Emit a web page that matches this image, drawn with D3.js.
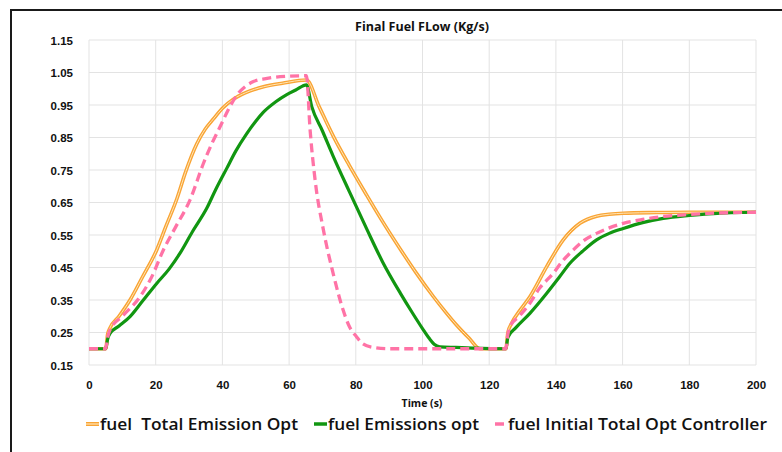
<!DOCTYPE html>
<html>
<head>
<meta charset="UTF-8">
<script src="https://d3js.org/d3.v7.min.js"></script>
<style>
  body { margin: 0; background: #fff; }
  svg { display: block; font-family: "Open Sans", "Liberation Sans", sans-serif; }
  .grid line { stroke: #e3e3e3; stroke-width: 1; }
  .tick-label { font-size: 11.5px; font-weight: bold; fill: #111; }
</style>
</head>
<body>
<svg id="chart" width="782" height="452"></svg>
<script>
  // series data (time in s, fuel flow in kg/s)
  const totalT = [0, 5, 5.6, 6.3, 9, 12.3, 16, 20.3, 23, 26.3, 29, 32.3, 34.8, 37.3, 40, 43.3, 47, 52.3, 58, 65.2,
                  69, 73.2, 78, 83.3, 88, 93.3, 98, 103.3, 107, 110.2, 114, 117.2, 125, 125.6, 126.7,
                  129, 132.2, 137.2, 142.2, 147.2, 152.2, 156, 160.2, 170, 180, 190, 200];
  const totalV = [0.2, 0.2, 0.245, 0.264, 0.3, 0.35, 0.42, 0.504, 0.575, 0.66, 0.745, 0.83, 0.875, 0.907, 0.94, 0.968, 0.988, 1.006, 1.017, 1.027,
                  0.945, 0.855, 0.765, 0.672, 0.592, 0.507, 0.435, 0.36, 0.312, 0.273, 0.232, 0.2, 0.2, 0.25, 0.278,
                  0.315, 0.36, 0.452, 0.535, 0.586, 0.608, 0.614, 0.617, 0.619, 0.62, 0.62, 0.62];

  const emisT = [0, 5, 5.6, 6.3, 9, 12.3, 16, 20.3, 24, 27.3, 31, 35.3, 38, 41.3, 44, 47.3, 50, 52.3, 56, 59.3, 62, 65.2,
                 66.8, 70, 73.2, 78, 83.3, 88, 93.3, 97, 100, 102, 103.5, 105.2, 110, 115, 125, 125.6,
                 128, 132.2, 137.2, 141, 144.2, 148, 152.2, 156, 160.2, 166, 172.2, 180, 187.2, 200];
  const emisV = [0.2, 0.2, 0.23, 0.247, 0.27, 0.299, 0.346, 0.401, 0.445, 0.494, 0.56, 0.632, 0.69, 0.755, 0.808, 0.862, 0.9, 0.928, 0.96, 0.982, 0.996, 1.012,
                 0.945, 0.87, 0.793, 0.685, 0.568, 0.468, 0.372, 0.31, 0.262, 0.232, 0.214, 0.206, 0.204, 0.202, 0.2, 0.235,
                 0.265, 0.309, 0.37, 0.42, 0.463, 0.5, 0.535, 0.555, 0.57, 0.588, 0.601, 0.61, 0.616, 0.62];

  const initT = [0, 5, 5.6, 6.3, 10, 15.3, 19, 22.3, 26, 30.3, 34.3, 37, 39.3, 42, 44.3, 47, 49.3, 53, 57.3, 65.2,
                 66.3, 67.8, 70.3, 73.2, 76.2, 78, 80.2, 82, 85.2, 90, 125, 125.6, 126.2,
                 129, 132.2, 135, 139.2, 142, 145.2, 148, 152.2, 156, 160.2, 166, 172.2, 180, 187.2, 200];
  const initV = [0.2, 0.2, 0.235, 0.258, 0.3, 0.36, 0.425, 0.504, 0.575, 0.658, 0.77, 0.835, 0.883, 0.94, 0.98, 1.008, 1.022, 1.031, 1.037, 1.04,
                 0.873, 0.719, 0.565, 0.432, 0.319, 0.27, 0.237, 0.216, 0.204, 0.2, 0.2, 0.245, 0.268,
                 0.3, 0.34, 0.385, 0.432, 0.47, 0.504, 0.53, 0.555, 0.572, 0.586, 0.598, 0.607, 0.613, 0.617, 0.62];

  const xTicks = [0, 20, 40, 60, 80, 100, 120, 140, 160, 180, 200];
  const yTicks = [0.15, 0.25, 0.35, 0.45, 0.55, 0.65, 0.75, 0.85, 0.95, 1.05, 1.15];
  const legendNames = ["fuel  Total Emission Opt", "fuel Emissions opt", "fuel Initial Total Opt Controller"];

  const svg = d3.select("#chart");
  const margin = { left: 89, right: 26, top: 40, bottom: 87 };
  const W = 782, H = 452;

  // outer chart frame
  svg.append("rect")
    .attr("x", 11).attr("y", 10)
    .attr("width", W).attr("height", H)
    .attr("fill", "none").attr("stroke", "#1a1a1a").attr("stroke-width", 2);

  const x = d3.scaleLinear().domain([0, 200]).range([margin.left, W - margin.right]);
  const y = d3.scaleLinear().domain([0.15, 1.15]).range([H - margin.bottom, margin.top]);

  // grid
  const grid = svg.append("g").attr("class", "grid");
  grid.selectAll(".gy").data(yTicks).enter().append("line")
    .attr("x1", x(0)).attr("x2", x(200))
    .attr("y1", d => y(d)).attr("y2", d => y(d));
  grid.selectAll(".gx").data(xTicks).enter().append("line")
    .attr("x1", d => x(d)).attr("x2", d => x(d))
    .attr("y1", y(0.15)).attr("y2", y(1.15));

  // axes (labels only, like the original)
  const yAxis = svg.append("g")
    .attr("transform", `translate(${x(0) - 13},0)`)
    .call(d3.axisLeft(y).tickValues(yTicks).tickFormat(d3.format(".2f")).tickSize(0));
  yAxis.select(".domain").remove();
  yAxis.selectAll("text").attr("class", "tick-label").attr("dy", "0.35em");

  const xAxis = svg.append("g")
    .attr("transform", `translate(0,${y(0.15) + 13})`)
    .call(d3.axisBottom(x).tickValues(xTicks).tickFormat(d3.format("d")).tickSize(0));
  xAxis.select(".domain").remove();
  xAxis.selectAll("text").attr("class", "tick-label");

  // title and axis title
  svg.append("text")
    .attr("x", 422).attr("y", 31)
    .attr("text-anchor", "middle")
    .style("font-size", "12.5px").style("font-weight", "bold").style("fill", "#111")
    .text("Final Fuel FLow (Kg/s)");
  svg.append("text")
    .attr("x", 422).attr("y", 407)
    .attr("text-anchor", "middle")
    .style("font-size", "10.5px").style("font-weight", "bold").style("fill", "#111")
    .text("Time (s)");

  const line = d3.line().x(d => x(d[0])).y(d => y(d[1])).curve(d3.curveMonotoneX);
  const total = d3.zip(totalT, totalV);
  const emis = d3.zip(emisT, emisV);
  const init = d3.zip(initT, initV);

  const orange = "#f9a434", orangeLight = "#ffe6b8", green = "#119611", pink = "#ff73a6";

  svg.append("path").datum(total).attr("d", line)
    .attr("fill", "none").attr("stroke", orange).attr("stroke-width", 3.6);
  svg.append("path").datum(total).attr("d", line)
    .attr("fill", "none").attr("stroke", orangeLight).attr("stroke-width", 1);
  svg.append("path").datum(emis).attr("d", line)
    .attr("fill", "none").attr("stroke", green).attr("stroke-width", 3.2);
  svg.append("path").datum(init).attr("d", line)
    .attr("fill", "none").attr("stroke", pink).attr("stroke-width", 3.3)
    .attr("stroke-dasharray", "9,5");

  // legend
  const legendX = [86, 314, 495];
  const legendW = [198, 151, 259];
  const lg = svg.append("g");
  legendNames.forEach((name, i) => {
    const g = lg.append("g").attr("transform", `translate(${legendX[i]},424)`);
    if (i === 0) {
      g.append("line").attr("x1", 0).attr("x2", 13).attr("stroke", orange).attr("stroke-width", 4);
      g.append("line").attr("x1", 0).attr("x2", 13).attr("stroke", orangeLight).attr("stroke-width", 1.2);
    } else if (i === 1) {
      g.append("line").attr("x1", 0).attr("x2", 13).attr("stroke", green).attr("stroke-width", 3.5);
    } else {
      g.append("line").attr("x1", 0).attr("x2", 9).attr("stroke", pink).attr("stroke-width", 3.5);
    }
    g.append("text")
      .attr("x", i === 2 ? 13 : 14).attr("dy", "0.35em")
      .attr("textLength", legendW[i]).attr("lengthAdjust", "spacingAndGlyphs")
      .style("white-space", "pre")
      .style("font-size", "17px").style("font-weight", "600").style("fill", "#111")
      .text(name);
  });
</script>
</body>
</html>
